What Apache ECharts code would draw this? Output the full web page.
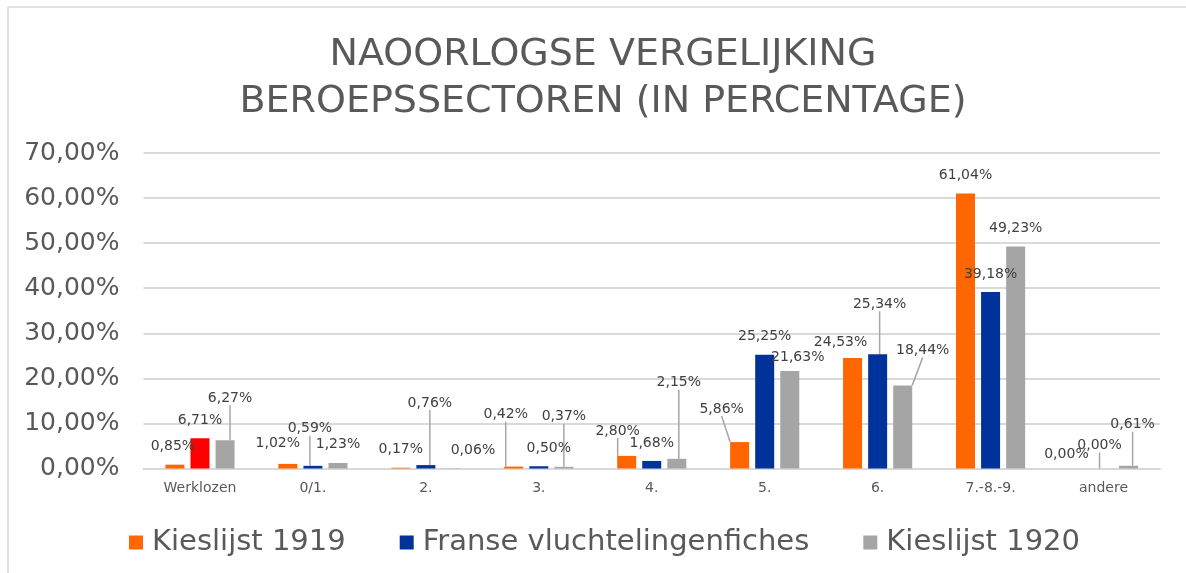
<!DOCTYPE html>
<html>
<head>
<meta charset="utf-8">
<script src="https://cdn.jsdelivr.net/npm/echarts@6/dist/echarts.min.js"></script>
<style>
  html, body { margin: 0; padding: 0; background: #fff; }
  #chart { width: 1186px; height: 573px; }
</style>
</head>
<body>
<div id="chart"></div>
<script>
// categories and values (percent)
const categories = ['Werklozen', '0/1.', '2.', '3.', '4.', '5.', '6.', '7.-8.-9.', 'andere'];
const seriesNames = ['Kieslijst 1919', 'Franse vluchtelingenfiches', 'Kieslijst 1920'];
const kieslijst1919 = [0.85, 1.02, 0.17, 0.42, 2.80, 5.86, 24.53, 61.04, 0.00];
const franseFiches = [6.71, 0.59, 0.76, 0.50, 1.68, 25.25, 25.34, 39.18, 0.00];
const kieslijst1920 = [6.27, 1.23, 0.06, 0.37, 2.15, 21.63, 18.44, 49.23, 0.61];

const colors = ['#FF6600', '#003399', '#A5A5A5'];

// label nudges [dx, dy, leader line] per series, per category
const nudge = [
  [[-2, 0, 0], [-10, -3, 0], [0, 0, 0], [-8, -34, 1], [-9, -7, 1], [-18, -15, 1], [-12, 2, 0], [0, 0, 0], [-12, 4, 0]],
  [[0, 0, 0], [-3, -19, 1], [4, -44, 1], [10, 0, 0], [0, 0, 0], [0, 0, 0], [2, -32, 1], [0, 0, 0], [-4, -5, 1]],
  [[5, -24, 1], [0, -1, 0], [22, 0, 0], [0, -32, 1], [2, -58, 1], [8, 4, 0], [20, -17, 1], [0, 0, 0], [4, -23, 1]]
];

const pct = v => v.toFixed(2).replace('.', ',') + '%';
const font = 'DejaVu Sans';

function makeSeries(idx, values) {
  return {
    name: seriesNames[idx],
    type: 'bar',
    barWidth: 19,
    barGap: '32%',
    itemStyle: { color: colors[idx] },
    label: {
      show: true,
      position: 'top',
      distance: 11,
      fontFamily: font,
      fontSize: 14,
      color: '#404040',
      formatter: p => pct(p.value)
    },
    labelLine: { lineStyle: { color: '#A6A6A6', width: 1.5 } },
    labelLayout: p => ({ dx: nudge[idx][p.dataIndex][0], dy: nudge[idx][p.dataIndex][1] }),
    data: values.map((v, i) => {
      const item = { value: v, labelLine: { show: !!nudge[idx][i][2] } };
      // the unemployed bar of the French series is drawn red
      if (idx === 1 && i === 0) item.itemStyle = { color: '#FF0000' };
      return item;
    })
  };
}

const chart = echarts.init(document.getElementById('chart'));
chart.setOption({
  animation: false,
  textStyle: { fontFamily: font },
  graphic: [{
    type: 'rect',
    shape: { x: 8, y: 7, width: 1300, height: 700 },
    style: { fill: 'none', stroke: '#D9D9D9', lineWidth: 1.5 },
    silent: true
  }],
  title: {
    text: 'NAOORLOGSE VERGELIJKING\nBEROEPSSECTOREN (IN PERCENTAGE)',
    left: 598,
    textAlign: 'center',
    top: 27,
    textStyle: {
      fontFamily: font,
      fontSize: 38,
      fontWeight: 'normal',
      color: '#595959',
      lineHeight: 46.5
    }
  },
  legend: {
    left: 124,
    top: 523,
    icon: 'rect',
    itemWidth: 14,
    itemHeight: 14,
    itemGap: 54,
    textStyle: { fontFamily: font, fontSize: 29, color: '#595959', padding: [0, 0, 0, 4] },
    data: seriesNames.map((n, i) => ({ name: n, itemStyle: { color: colors[i] } }))
  },
  grid: { left: 143.5, right: 26, top: 153, bottom: 104.5 },
  xAxis: {
    type: 'category',
    data: categories,
    axisLine: { lineStyle: { color: '#D9D9D9', width: 2 } },
    axisTick: { show: false },
    axisLabel: { fontFamily: font, fontSize: 14, color: '#595959', margin: 13 }
  },
  yAxis: {
    type: 'value',
    min: 0,
    max: 70,
    interval: 10,
    axisLine: { show: false },
    axisTick: { show: false },
    splitLine: { lineStyle: { color: '#D9D9D9', width: 2 } },
    axisLabel: { fontFamily: font, fontSize: 25, color: '#595959', margin: 24, formatter: v => pct(v) }
  },
  series: [
    makeSeries(0, kieslijst1919),
    makeSeries(1, franseFiches),
    makeSeries(2, kieslijst1920)
  ]
});
</script>
</body>
</html>
